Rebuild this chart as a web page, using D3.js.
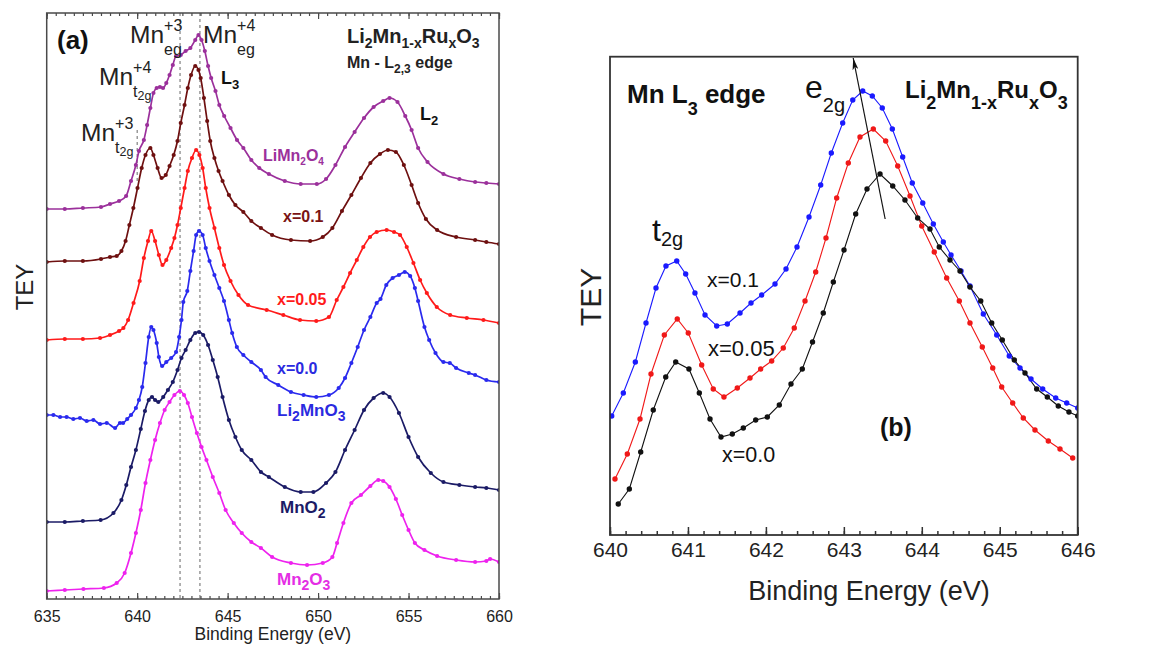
<!DOCTYPE html>
<html><head><meta charset="utf-8">
<script src="https://cdn.jsdelivr.net/npm/d3@7"></script>
<style>
html,body{margin:0;padding:0;background:#fff;}
svg{display:block;}
</style></head><body>
<svg id="chart" width="1151" height="647"></svg>
<script>
// ---------------- Panel (a) data: [binding energy (eV), TEY (arb. units, offset)] ----------------
const liMn2O4 = [[635.0,390],[636.0,390],[637.0,391],[638.0,392],[638.5,395],[639.0,398],[639.39,403],[639.66,418],[639.93,434],[640.1,448],[640.37,459],[640.55,474],[640.73,491],[640.9,506],[641.08,511],[641.26,512],[641.43,511],[641.61,516],[641.79,524],[641.97,534],[642.15,543],[642.41,544],[642.68,548],[642.94,551],[643.21,559],[643.39,564],[643.56,559],[643.74,548],[643.92,533],[644.09,521],[644.33,508],[644.54,494],[644.81,483],[645.16,471],[645.52,459],[645.87,451],[646.31,439],[646.75,431],[647.28,425],[648.16,418],[649.04,415],[649.93,415],[650.44,420],[650.96,434],[651.49,452],[652.02,467],[652.54,481],[653.07,492],[653.6,498],[653.95,501],[654.39,497],[654.82,483],[655.17,469],[655.53,451],[656.05,437],[656.93,425],[657.81,420],[658.68,417],[659.3,416],[660.0,415]];
const x01 = [[635.0,337],[636.0,338],[637.0,338],[638.0,340],[638.5,342],[638.87,343],[639.13,348],[639.36,358],[639.57,374],[639.79,391],[640.02,411],[640.25,431],[640.46,444],[640.73,451],[640.9,444],[641.13,431],[641.35,421],[641.58,424],[641.79,433],[642.02,444],[642.23,458],[642.41,476],[642.62,494],[642.8,511],[642.98,524],[643.21,533],[643.39,529],[643.51,521],[643.69,501],[643.87,478],[644.04,458],[644.27,441],[644.5,428],[644.72,418],[645.07,404],[645.43,394],[645.87,387],[646.31,378],[646.84,371],[647.46,364],[648.5,359],[649.56,358],[650.26,362],[650.79,371],[651.32,388],[651.84,404],[652.37,421],[652.89,436],[653.42,445],[653.86,449],[654.3,447],[654.74,434],[655.17,414],[655.53,396],[655.96,380],[656.58,369],[657.63,362],[658.68,359],[659.3,357],[660.0,355]];
const x005 = [[635.0,259],[636.0,260],[637.0,260],[637.95,261],[638.5,264],[639.0,268],[639.24,271],[639.5,279],[639.8,296],[640.14,318],[640.37,341],[640.6,358],[640.78,368],[640.99,358],[641.2,344],[641.4,334],[641.61,339],[641.88,351],[642.06,361],[642.23,374],[642.41,391],[642.62,411],[642.8,428],[643.03,441],[643.26,449],[643.44,444],[643.62,431],[643.79,411],[644.0,391],[644.27,371],[644.54,351],[644.8,334],[645.16,318],[645.6,304],[646.13,294],[647.16,289],[648.08,284],[649.0,279],[649.9,278],[650.6,282],[651.03,299],[651.4,312],[651.77,326],[652.14,339],[652.5,352],[652.87,362],[653.24,367],[653.79,369],[654.2,367],[654.53,364],[654.9,352],[655.27,336],[655.64,319],[656.01,306],[656.56,292],[657.3,284],[658.22,281],[659.14,279],[660.0,276]];
const x00 = [[635.0,184],[635.37,184],[635.74,182],[636.1,182],[636.47,180],[636.84,181],[637.21,178],[637.58,179],[637.95,175],[638.32,176],[638.78,171],[639.05,176],[639.22,176],[639.45,180],[639.66,184],[639.93,191],[640.1,199],[640.28,212],[640.46,236],[640.64,262],[640.78,272],[640.9,269],[641.08,256],[641.2,242],[641.38,233],[641.61,237],[641.88,241],[642.15,247],[642.32,262],[642.45,279],[642.55,297],[642.77,308],[642.94,328],[643.12,348],[643.26,364],[643.42,368],[643.62,364],[643.79,351],[644.0,338],[644.27,324],[644.54,311],[644.8,298],[645.07,279],[645.25,266],[645.51,252],[645.87,244],[646.31,237],[646.84,229],[647.1,222],[647.8,214],[648.5,207],[649.2,204],[649.9,202],[650.6,204],[651.14,211],[651.49,221],[651.84,236],[652.19,252],[652.54,269],[652.89,282],[653.24,296],[653.45,300],[653.77,314],[654.12,321],[654.47,324],[654.79,327],[655.09,323],[655.35,311],[655.53,298],[655.88,272],[656.14,259],[656.49,246],[656.93,237],[657.28,236],[657.63,231],[658.33,226],[658.68,224],[659.3,219],[660.0,217]];
const mnO2 = [[635.0,77],[636.0,77],[637.0,78],[637.98,79],[638.69,86],[639.13,99],[639.4,114],[639.66,132],[639.93,149],[640.2,170],[640.43,188],[640.64,199],[640.82,202],[640.99,199],[641.17,197],[641.44,202],[641.7,209],[641.97,217],[642.23,229],[642.45,241],[642.68,249],[642.94,259],[643.21,266],[643.42,267],[643.65,264],[643.92,254],[644.18,239],[644.45,222],[644.72,202],[645.07,179],[645.43,162],[645.78,149],[646.31,139],[646.84,127],[647.28,122],[648.16,112],[649.04,107],[649.74,107],[650.44,116],[650.96,127],[651.49,149],[652.02,169],[652.54,189],[653.07,201],[653.6,206],[653.95,202],[654.47,186],[655.0,162],[655.53,142],[656.23,126],[656.93,117],[657.81,114],[658.68,112],[659.3,111],[660.0,109]];
const mn2O3 = [[635.0,8],[636.0,9],[637.03,10],[638.16,11],[638.87,16],[639.31,26],[639.66,46],[639.93,66],[640.2,89],[640.46,116],[640.73,139],[640.99,159],[641.26,176],[641.52,189],[641.79,197],[642.06,204],[642.36,208],[642.59,204],[642.8,196],[643.03,182],[643.3,166],[643.56,152],[643.83,139],[644.18,122],[644.54,106],[644.89,89],[645.34,76],[645.78,66],[646.31,57],[646.84,51],[647.46,42],[648.5,36],[649.39,34],[650.26,36],[650.79,42],[651.05,56],[651.4,76],[651.84,96],[652.37,104],[652.89,113],[653.33,119],[653.6,118],[653.95,112],[654.3,100],[654.65,84],[655.0,69],[655.35,56],[655.88,49],[656.58,43],[657.63,39],[658.68,37],[659.3,38],[659.51,40],[660.0,37]];
const markerLinesA = [642.37, 643.47];
const shortMarkerA = [640.0, 418, 471];
const ticksA = [635, 640, 645, 650, 655, 660];

// ---------------- Panel (b) data ----------------
const bX01 = [[640.022,119],[640.171,142],[640.325,173],[640.462,212],[640.59,247],[640.718,269],[640.856,274],[640.971,261],[641.09,242],[641.219,220],[641.369,209],[641.505,211],[641.668,222],[641.809,232],[641.946,240],[642.117,251],[642.258,266],[642.399,288],[642.553,318],[642.703,350],[642.839,382],[642.985,412],[643.114,435],[643.242,444],[643.365,439],[643.493,427],[643.622,406],[643.755,378],[643.878,352],[644.012,332],[644.148,311],[644.276,293],[644.375,280],[644.503,264],[644.618,249],[644.789,221],[644.961,200],[645.122,179],[645.26,167],[645.401,156],[645.551,146],[645.718,137],[645.859,132],[646.0,127]];
const bX005 = [[640.064,56],[640.222,81],[640.385,116],[640.526,161],[640.697,200],[640.863,216],[641.004,202],[641.176,170],[641.325,146],[641.462,138],[641.633,147],[641.796,157],[641.933,166],[642.074,174],[642.223,187],[642.364,207],[642.502,234],[642.639,263],[642.771,297],[642.908,337],[643.057,372],[643.207,398],[643.378,406],[643.537,394],[643.691,369],[643.849,339],[643.999,309],[644.16,283],[644.319,257],[644.481,234],[644.618,212],[644.776,188],[644.91,167],[645.025,148],[645.166,132],[645.302,117],[645.452,105],[645.623,94],[645.773,86],[645.936,77]];
const bX00 = [[640.106,31],[640.248,46],[640.394,83],[640.555,125],[640.715,158],[640.843,173],[641.013,166],[641.146,142],[641.283,116],[641.424,98],[641.569,101],[641.71,107],[641.869,115],[642.018,118],[642.172,130],[642.322,151],[642.467,166],[642.598,193],[642.736,222],[642.865,253],[643.002,285],[643.152,321],[643.297,346],[643.464,361],[643.627,349],[643.784,335],[643.947,317],[644.105,306],[644.224,288],[644.362,275],[644.49,264],[644.618,248],[644.756,234],[644.897,212],[645.033,195],[645.187,175],[645.324,162],[645.474,146],[645.61,138],[645.751,129],[645.888,123],[646.0,119]];
const arrowE2g = [[643.53, 316], [643.12, 477]];
const ticksB = [640, 641, 642, 643, 644, 645, 646];

// ---------------- drawing ----------------
const FONT = "'Liberation Sans', Arial, Helvetica, sans-serif";
const svg = d3.select('#chart');
const defs = svg.append('defs');

function rich(g, x, y, parts, size, color, weight, anchor) {
  const t = g.append('text').attr('x', x).attr('y', y)
    .attr('font-family', FONT).attr('font-size', size)
    .attr('font-weight', weight || 'normal').attr('fill', color || '#000')
    .attr('text-anchor', anchor || 'start');
  let cur = 0;
  parts.forEach(p => {
    const s = p[0], shift = p[1] || 0, fs = p[2] || size;
    t.append('tspan').attr('dy', shift - cur).attr('font-size', fs).text(s);
    cur = shift;
  });
  return t;
}
function stacked(g, x, y, base, sup, subParts, size, small, supDy, subDy, color) {
  const t = g.append('text').attr('x', x).attr('y', y).attr('font-family', FONT)
    .attr('font-size', size).attr('fill', color).text(base);
  const w = t.node().getComputedTextLength();
  g.append('text').attr('x', x + w).attr('y', y + supDy).attr('font-family', FONT)
    .attr('font-size', small).attr('fill', color).text(sup);
  rich(g, x + w, y + subDy, subParts, small, color);
}

// ===== Panel A =====
const xA = d3.scaleLinear().domain([635, 660]).range([46.7, 499]);
const yA = d3.scaleLinear().domain([0, 586]).range([599, 13]);
const gA = svg.append('g');
defs.append('clipPath').attr('id', 'clipA').append('rect')
  .attr('x', xA(635)).attr('y', yA(586)).attr('width', xA(660) - xA(635)).attr('height', yA(0) - yA(586));

const frameColA = '#4a4a4a';
markerLinesA.forEach(e => {
  gA.append('line').attr('x1', xA(e)).attr('x2', xA(e)).attr('y1', yA(586)).attr('y2', yA(0))
    .attr('stroke', '#666').attr('stroke-width', 1).attr('stroke-dasharray', '3,3');
});
gA.append('line').attr('x1', xA(shortMarkerA[0])).attr('x2', xA(shortMarkerA[0]))
  .attr('y1', yA(shortMarkerA[1])).attr('y2', yA(shortMarkerA[2]))
  .attr('stroke', '#666').attr('stroke-width', 1).attr('stroke-dasharray', '3,3');

const seriesA = [
  {d: liMn2O4, c: '#9b309b'},
  {d: x01, c: '#6e1010'},
  {d: x005, c: '#ff1a1a'},
  {d: x00, c: '#2a2aee'},
  {d: mnO2, c: '#1b1b66'},
  {d: mn2O3, c: '#ee22ee'}
];
const lineA = d3.line().x(d => xA(d[0])).y(d => yA(d[1])).curve(d3.curveMonotoneX);
const plotA = gA.append('g').attr('clip-path', 'url(#clipA)');
seriesA.forEach(s => {
  plotA.append('path').datum(s.d).attr('d', lineA).attr('fill', 'none')
    .attr('stroke', s.c).attr('stroke-width', 1.7);
  plotA.append('g').selectAll('circle').data(s.d).join('circle')
    .attr('cx', d => xA(d[0])).attr('cy', d => yA(d[1])).attr('r', 2.1).attr('fill', s.c);
});

gA.append('rect').attr('x', xA(635)).attr('y', yA(586)).attr('width', xA(660) - xA(635))
  .attr('height', yA(0) - yA(586)).attr('fill', 'none').attr('stroke', frameColA).attr('stroke-width', 1.5);

function styleAxis(sel, col, fs) {
  sel.select('.domain').remove();
  sel.selectAll('.tick line').attr('stroke', col).attr('stroke-width', 1.2);
  sel.selectAll('.tick text').attr('font-family', FONT).attr('font-size', fs).attr('fill', '#222');
}
const minorA = d3.range(635, 660.01, 0.5);
gA.append('g').attr('transform', `translate(0,${yA(0)})`)
  .call(d3.axisBottom(xA).tickValues(minorA).tickSize(-3).tickFormat(''))
  .call(s => styleAxis(s, frameColA, 16));
gA.append('g').attr('transform', `translate(0,${yA(0)})`)
  .call(d3.axisBottom(xA).tickValues(ticksA).tickSize(-6).tickPadding(11.5).tickFormat(d3.format('d')))
  .call(s => styleAxis(s, frameColA, 16));
gA.append('g').attr('transform', `translate(0,${yA(586)})`)
  .call(d3.axisTop(xA).tickValues(minorA).tickSize(-3).tickFormat(''))
  .call(s => styleAxis(s, frameColA, 16));
gA.append('g').attr('transform', `translate(0,${yA(586)})`)
  .call(d3.axisTop(xA).tickValues(ticksA).tickSize(-6).tickFormat(''))
  .call(s => styleAxis(s, frameColA, 16));

gA.append('text').attr('x', (xA(635) + xA(660)) / 2).attr('y', 640).attr('text-anchor', 'middle')
  .attr('font-family', FONT).attr('font-size', 17.5).attr('fill', '#222').text('Binding Energy (eV)');
gA.append('text').attr('transform', 'translate(33,287) rotate(-90)').attr('text-anchor', 'middle')
  .attr('font-family', FONT).attr('font-size', 24).attr('fill', '#222').text('TEY');

rich(gA, 57, 49, [['(a)']], 26, '#111', 'bold');
rich(gA, 347, 43, [['Li'], ['2', 5, 14], ['Mn', 0], ['1-x', 5, 14], ['Ru', 0], ['x', 5, 14], ['O', 0], ['3', 5, 14]], 20, '#222', 'bold');
rich(gA, 347, 68, [['Mn - L'], ['2,3', 5, 12], [' edge', 0]], 16, '#222', 'bold');
stacked(gA, 130, 43, 'Mn', '+3', [['e'], ['g']], 24.5, 16, -12, 12, '#222');
stacked(gA, 203, 43, 'Mn', '+4', [['e'], ['g']], 24.5, 16, -12, 12, '#222');
stacked(gA, 99, 85, 'Mn', '+4', [['t'], ['2g', 3, 12.5]], 24.5, 16, -12, 12, '#222');
stacked(gA, 81, 141, 'Mn', '+3', [['t'], ['2g', 3, 12.5]], 24.5, 16, -12, 12, '#222');
rich(gA, 221, 84, [['L'], ['3', 5, 13]], 18, '#111', 'bold');
rich(gA, 420, 120, [['L'], ['2', 5, 13]], 18, '#111', 'bold');
rich(gA, 263, 161, [['LiMn'], ['2', 4, 10], ['O', 0], ['4', 4, 10]], 16, '#9b309b', 'bold');
rich(gA, 283, 222, [['x=0.1']], 16, '#7a1414', 'bold');
rich(gA, 277, 305, [['x=0.05']], 16, '#ff1a1a', 'bold');
rich(gA, 277, 374, [['x=0.0']], 16, '#2a2ae0', 'bold');
rich(gA, 277, 416, [['Li'], ['2', 5, 14], ['MnO', 0], ['3', 5, 14]], 17, '#2a2ae0', 'bold');
rich(gA, 280, 513, [['MnO'], ['2', 5, 14]], 17, '#1b1b66', 'bold');
rich(gA, 277, 585, [['Mn'], ['2', 5, 14], ['O', 0], ['3', 5, 14]], 17, '#e42ee4', 'bold');

// ===== Panel B =====
const xB = d3.scaleLinear().domain([640, 646]).range([610, 1077.7]);
const yB = d3.scaleLinear().domain([0, 478.3]).range([535, 56.7]);
const gB = svg.append('g');
defs.append('clipPath').attr('id', 'clipB').append('rect')
  .attr('x', xB(640)).attr('y', yB(478.3)).attr('width', xB(646) - xB(640)).attr('height', yB(0) - yB(478.3));

const seriesB = [
  {d: bX01, c: '#1a1aff'},
  {d: bX005, c: '#f01818'},
  {d: bX00, c: '#111111'}
];
const lineB = d3.line().x(d => xB(d[0])).y(d => yB(d[1]));
const plotB = gB.append('g').attr('clip-path', 'url(#clipB)');
seriesB.forEach(s => {
  plotB.append('path').datum(s.d).attr('d', lineB).attr('fill', 'none')
    .attr('stroke', s.c).attr('stroke-width', 1.1);
});
seriesB.forEach(s => {
  plotB.append('g').selectAll('circle').data(s.d).join('circle')
    .attr('cx', d => xB(d[0])).attr('cy', d => yB(d[1])).attr('r', 2.7).attr('fill', s.c);
});

defs.append('marker').attr('id', 'arrowHead').attr('viewBox', '0 0 12 6').attr('refX', 12).attr('refY', 3)
  .attr('markerWidth', 12).attr('markerHeight', 6).attr('markerUnits', 'userSpaceOnUse').attr('orient', 'auto')
  .append('path').attr('d', 'M0,0 L12,3 L0,6 L3,3 z').attr('fill', '#111');
gB.append('line').attr('x1', xB(arrowE2g[0][0])).attr('y1', yB(arrowE2g[0][1]))
  .attr('x2', xB(arrowE2g[1][0])).attr('y2', yB(arrowE2g[1][1]))
  .attr('stroke', '#111').attr('stroke-width', 1.2).attr('marker-end', 'url(#arrowHead)');

const frameColB = '#333';
gB.append('rect').attr('x', xB(640)).attr('y', yB(478.3)).attr('width', xB(646) - xB(640))
  .attr('height', yB(0) - yB(478.3)).attr('fill', 'none').attr('stroke', frameColB).attr('stroke-width', 1.8);
const minorB = d3.range(640, 646.001, 0.2);
gB.append('g').attr('transform', `translate(0,${yB(0)})`)
  .call(d3.axisBottom(xB).tickValues(minorB).tickSize(-4).tickFormat(''))
  .call(s => styleAxis(s, frameColB, 21));
gB.append('g').attr('transform', `translate(0,${yB(0)})`)
  .call(d3.axisBottom(xB).tickValues(ticksB).tickSize(-8).tickPadding(7).tickFormat(d3.format('d')))
  .call(s => styleAxis(s, frameColB, 21));
gB.selectAll('.tick line').attr('stroke-width', 1.5);

gB.append('text').attr('x', 869).attr('y', 600).attr('text-anchor', 'middle')
  .attr('font-family', FONT).attr('font-size', 27).attr('fill', '#222').text('Binding Energy (eV)');
gB.append('text').attr('transform', 'translate(601,297) rotate(-90)').attr('text-anchor', 'middle')
  .attr('font-family', FONT).attr('font-size', 30).attr('fill', '#222').text('TEY');

rich(gB, 627, 103, [['Mn L'], ['3', 12, 18], [' edge', 0]], 26, '#111', 'bold');
rich(gB, 805, 98, [['e'], ['2g', 14, 20]], 32, '#111');
rich(gB, 905, 98, [['Li'], ['2', 11, 18], ['Mn', 0], ['1-x', 11, 18], ['Ru', 0], ['x', 11, 18], ['O', 0], ['3', 11, 18]], 24, '#111', 'bold');
rich(gB, 652, 241, [['t'], ['2g', 5, 20]], 32, '#111');
rich(gB, 707, 287, [['x=0.1']], 21, '#111');
rich(gB, 708, 356, [['x=0.05']], 22, '#111');
rich(gB, 722, 462, [['x=0.0']], 21.5, '#111');
rich(gB, 880, 436, [['(b)']], 25, '#111', 'bold');
</script>
</body></html>
